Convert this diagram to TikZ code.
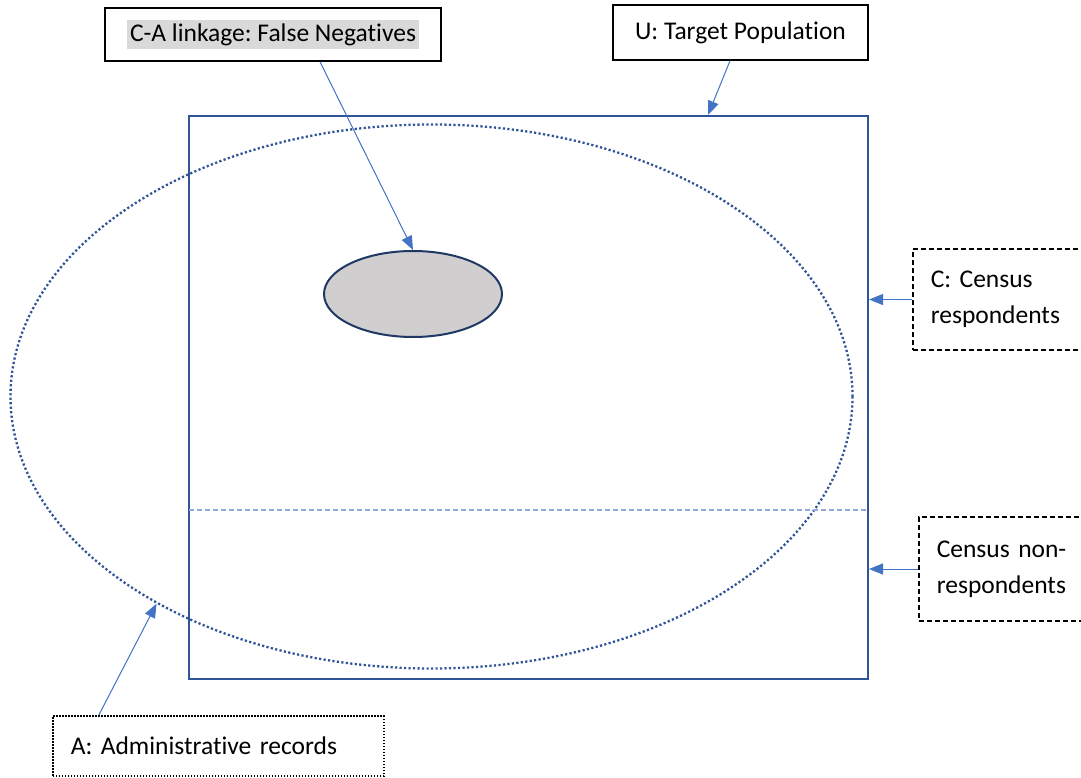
\documentclass[tikz,border=0pt]{standalone}
\usepackage{fontspec}
\setmainfont{Carlito}[Ligatures=NoCommon]
\usetikzlibrary{arrows.meta,positioning,calc,shapes.geometric}

\definecolor{frameblue}{HTML}{2F5597}
\definecolor{arrowblue}{HTML}{4472C4}
\definecolor{splitblue}{HTML}{8FAADC}
\definecolor{fnnavy}{HTML}{1F3864}
\definecolor{fngray}{HTML}{D0CECE}
\definecolor{hlgray}{HTML}{D9D9D9}
\frenchspacing

\begin{document}
\begin{tikzpicture}[x=1pt, y=-1pt, font=\fontsize{25.5}{36}\selectfont,
	pointer/.style={draw=arrowblue, line width=1pt, -{Triangle[length=14pt,width=11pt]}},
	solidbox/.style={draw=black, line width=1.5pt, rectangle, inner sep=0pt},
	dashbox/.style={draw=black, line width=1.5pt, dash pattern=on 5pt off 3pt, rectangle, anchor=west, inner xsep=18pt, inner ysep=0pt, align=left},
	dotbox/.style={draw=black, line width=1.5pt, dash pattern=on 1.5pt off 1.5pt, rectangle, anchor=west, inner xsep=18pt, inner ysep=0pt, align=left}]
	\useasboundingbox (0,0) rectangle (1081,778);

	% population, records and the false negatives
	\node (U) at (528.5,397.5) [draw=frameblue, line width=2pt, minimum width=679pt, minimum height=563pt, inner sep=0pt] {};
	\node (A) at (431.5,396.5) [ellipse, draw=frameblue, line width=2.3pt, dash pattern=on 2.2pt off 2.3pt, minimum width=842pt, minimum height=544pt, inner sep=0pt] {};
	\node (fn) at (413,294) [ellipse, draw=fnnavy, fill=fngray, line width=2pt, minimum width=178pt, minimum height=86pt, inner sep=0pt] {};
	\coordinate (splitl) at (189,510);
	\draw [splitblue, line width=1.2pt, dash pattern=on 5pt off 3pt] (splitl) -- (splitl -| U.east);

	% labels
	\node (ca) at (273,34.5) [solidbox, minimum width=336pt, minimum height=53pt] {\fboxsep=3pt\colorbox{hlgray}{C-A linkage: False Negatives}};
	\node (up) at (740.5,32.5) [solidbox, minimum width=255pt, minimum height=55pt] {U: Target Population};
	\node (cbox) at (912,299.5) [dashbox, text width=160pt, minimum height=101pt] {C: Census\\respondents};
	\node (nbox) at (918,569) [dashbox, text width=160pt, minimum height=104pt] {Census non-\\respondents};
	\node (abox) at (52,746) [dotbox, text width=295pt, minimum height=60pt] {A: Administrative records};

	\draw [pointer] ([xshift=47pt]ca.south) -- (fn.north);
	\draw [pointer] ([xshift=-10.5pt]up.south) -- ([xshift=179.5pt]U.north);
	\draw [pointer] (cbox.west) -- (cbox.west -| U.east);
	\draw [pointer] (nbox.west) -- (nbox.west -| U.east);
	\draw [pointer] ([xshift=-119.5pt]abox.north) -- (A.217.5);
\end{tikzpicture}
\end{document}
